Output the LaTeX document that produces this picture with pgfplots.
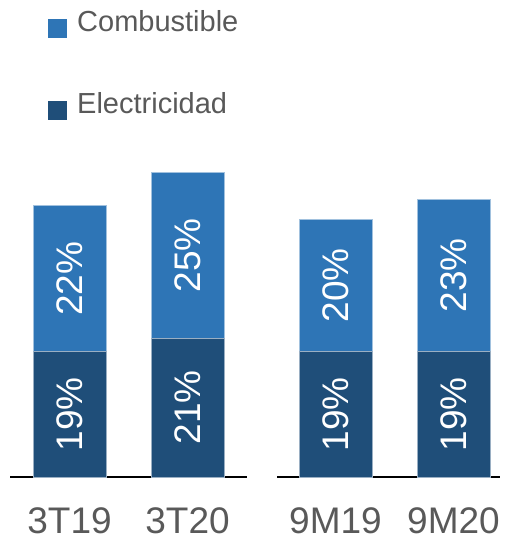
\documentclass[border=0pt]{standalone}
\usepackage{pgfplots}
\pgfplotsset{compat=1.18}
\usepackage{fontspec}
\setmainfont{Liberation Sans}
\definecolor{comb}{HTML}{2E75B6}
\definecolor{elec}{HTML}{1F4E79}
\definecolor{txt}{HTML}{595959}
\pgfplotsset{
  mybars/.style={
    scale only axis, height=330.75pt, ymin=0, ymax=50,
    ybar stacked, bar width=73pt,
    axis y line=none, axis x line*=bottom,
    x axis line style={black, line width=1.6pt, -},
    major tick length=0pt,
    xtick style={draw=none},
    xticklabel style={font=\fontsize{37}{40}\selectfont, text=txt, inner sep=0pt, anchor=base, yshift=-56pt},
    clip=false,
  },
  mylabels/.style={
    scale only axis, height=330.75pt, ymin=0, ymax=50, hide axis, clip=false,
    nodes near coords, point meta=explicit symbolic,
    every node near coord/.append style={font=\fontsize{37}{40}\selectfont, text=white, rotate=90, anchor=center, inner sep=0pt},
  },
}
\begin{document}
\begin{tikzpicture}[x=1pt,y=1pt]
\path[use as bounding box] (0,0) rectangle (504,541);
\begin{axis}[mybars, at={(10pt,64pt)}, anchor=south west, width=237pt,
  xmin=10, xmax=247, xtick={69.5,187.5}, xticklabels={3T19,3T20},
  reverse legend,
  legend style={at={(axis description cs:0.1603,1.412)}, anchor=north west, draw=none, fill=none,
    inner sep=0pt, font=\fontsize{29}{29}\selectfont, text=txt, row sep=55pt,
    nodes={inner sep=0pt, text depth=0pt}},
  legend image code/.code={\fill[#1,draw=none] (0pt,-17pt) rectangle (19pt,2pt);},
  legend cell align=left,
]
\addplot[fill=elec, draw=white!55!elec, line width=0.6pt] coordinates {(69.5,19) (187.5,21)};
\addlegendentry{\hspace{10pt}Electricidad}
\addplot[fill=comb, draw=white!55!comb, line width=0.6pt] coordinates {(69.5,22) (187.5,25)};
\addlegendentry{\hspace{10pt}Combustible}
\end{axis}
\begin{axis}[mylabels, at={(10pt,64pt)}, anchor=south west, width=237pt, xmin=10, xmax=247]
\addplot[draw=none, mark=none] table[meta=lab] {
x y lab
69.5 9.5 19\%
187.5 10.5 21\%
69.5 30 22\%
187.5 33.5 25\%
};
\end{axis}
\begin{axis}[mybars, at={(277pt,64pt)}, anchor=south west, width=223pt,
  xmin=277, xmax=500, xtick={335.5,453.5}, xticklabels={9M19,9M20}]
\addplot[fill=elec, draw=white!55!elec, line width=0.6pt] coordinates {(335.5,19) (453.5,19)};
\addplot[fill=comb, draw=white!55!comb, line width=0.6pt] coordinates {(335.5,20) (453.5,23)};
\end{axis}
\begin{axis}[mylabels, at={(277pt,64pt)}, anchor=south west, width=223pt, xmin=277, xmax=500]
\addplot[draw=none, mark=none] table[meta=lab] {
x y lab
335.5 9.5 19\%
453.5 9.5 19\%
335.5 29 20\%
453.5 30.5 23\%
};
\end{axis}
\end{tikzpicture}
\end{document}
